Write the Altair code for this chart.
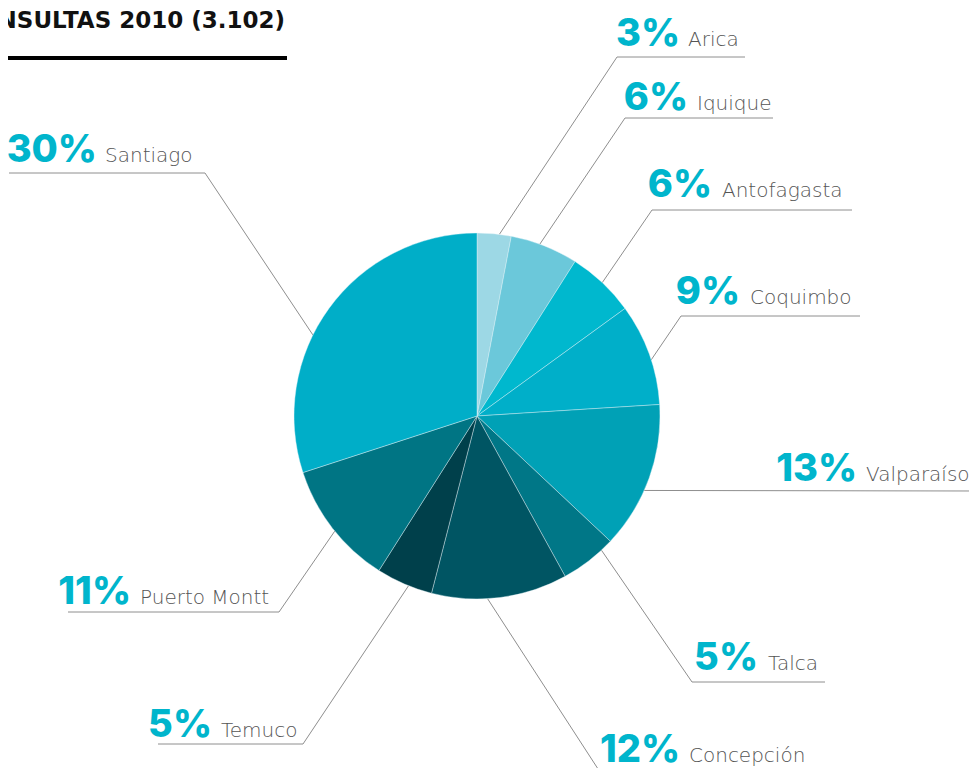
import math
import altair as alt
import pandas as pd

# ---------------- data ----------------
regions = ["Arica", "Iquique", "Antofagasta", "Coquimbo", "Valparaíso",
           "Talca", "Concepción", "Temuco", "Puerto Montt", "Santiago"]
values = [3, 6, 6, 9, 13, 5, 12, 5, 11, 30]
title_text = "CONSULTAS 2010 (3.102)"

# ---------------- styles ----------------
slice_colors = ["#9dd8e5", "#6bc8da", "#00b8ce", "#00afc9", "#00a1b6",
                "#007787", "#005563", "#00404b", "#007584", "#00aec8"]
PCT_COLOR = "#00b5cc"
NAME_COLOR = "#555555"
LINE_COLOR = "#8e8e8e"

# ---------------- layout (page pixels) ----------------
W, H = 961, 760
X0, Y0 = 8, 8
CX, CY, R = 477, 416, 183
anchor_frac = [0.65, 0.43, 0.5, 0.56, 0.59, 0.22, 0.59, 0.42, 0.47, 0.41]
elbow_x = [617, 625, 652, 681, None, 692, 600, 303, 279, 205]
elbow_y = [57, 118, 210, 316, None, 682, 772, 744, 612, 173]
end_x = [745, 773, 852, 860, 977, 825, 830, 158, 68, 9]
end_y = [57, 118, 210, 316, 491, 682, 772, 744, 612, 173]
pct_right_x = [680, 688, 712, 740, 857, 758, 680, 212, 131, 97]
name_left_x = [688, 697, 722, 750, 866, 768, 689, 221, 140, 105]
label_base_y = [46, 110, 197, 304, 481, 670, 762, 737, 604, 162]

xs = alt.Scale(domain=[X0, X0 + W], nice=False, zero=False)
ys = alt.Scale(domain=[Y0 + H, Y0], nice=False, zero=False)

# pie table
pie_df = pd.DataFrame({"region": regions, "value": values,
                       "order": list(range(len(regions)))})

# leader lines: start on pie edge (from cumulative share), then layout elbow/end
total = sum(values)
rows = []
cum = 0
for i, (reg, v) in enumerate(zip(regions, values)):
    a = 2 * math.pi * (cum + anchor_frac[i] * v) / total
    cum += v
    sx = CX + R * math.sin(a)
    sy = CY - R * math.cos(a)
    pts = [(sx, sy)]
    if elbow_x[i] is not None:
        pts.append((elbow_x[i], elbow_y[i]))
    pts.append((end_x[i], end_y[i]))
    for k, (px, py) in enumerate(pts):
        rows.append({"id": reg, "seq": k, "x": px, "y": py})
lines_df = pd.DataFrame(rows)

label_df = pd.DataFrame({
    "region": regions,
    "pct": [f"{v}%" for v in values],
    "px": pct_right_x,
    "nx": name_left_x,
    "by": label_base_y,
})

pie = alt.Chart(pie_df).mark_arc(outerRadius=R, stroke="#e6f6f9", strokeWidth=0.4).encode(
    theta=alt.Theta("value:Q", stack=True),
    order=alt.Order("order:Q"),
    color=alt.Color("region:N", scale=alt.Scale(domain=regions, range=slice_colors), legend=None),
    x=alt.XDatum(CX, type="quantitative", scale=xs, axis=None),
    y=alt.YDatum(CY, type="quantitative", scale=ys, axis=None),
)

leaders = alt.Chart(lines_df).mark_line(color=LINE_COLOR, strokeWidth=1).encode(
    x=alt.X("x:Q", scale=xs, axis=None),
    y=alt.Y("y:Q", scale=ys, axis=None),
    detail="id:N",
    order="seq:Q",
)

pct_text = alt.Chart(label_df).mark_text(
    font="Inter", fontWeight=800, fontSize=38, color=PCT_COLOR,
    align="right", baseline="alphabetic"
).encode(
    x=alt.X("px:Q", scale=xs, axis=None),
    y=alt.Y("by:Q", scale=ys, axis=None),
    text="pct:N",
)

name_text = alt.Chart(label_df).mark_text(
    font="DejaVu Sans", fontWeight=200, fontSize=20, color=NAME_COLOR,
    align="left", baseline="alphabetic"
).encode(
    x=alt.X("nx:Q", scale=xs, axis=None),
    y=alt.Y("by:Q", scale=ys, axis=None),
    text="region:N",
)

title_df = pd.DataFrame({"t": [title_text], "x": [285], "y": [28],
                         "rx": [0], "rx2": [287], "ry": [58]})
title = alt.Chart(title_df).mark_text(
    font="DejaVu Sans", fontWeight="bold", fontSize=23, color="#111111",
    align="right", baseline="alphabetic"
).encode(
    x=alt.X("x:Q", scale=xs, axis=None),
    y=alt.Y("y:Q", scale=ys, axis=None),
    text="t:N",
)
title_rule = alt.Chart(title_df).mark_rule(color="#000000", strokeWidth=4).encode(
    x=alt.X("rx:Q", scale=xs, axis=None),
    x2="rx2:Q",
    y=alt.Y("ry:Q", scale=ys, axis=None),
)

chart = alt.layer(leaders, pie, pct_text, name_text, title, title_rule).properties(
    width=W, height=H, padding=0,
    autosize=alt.AutoSizeParams(type="none"),
).configure_view(stroke=None)

chart.save("out.html", embed_options={"renderer": "svg", "actions": False})
